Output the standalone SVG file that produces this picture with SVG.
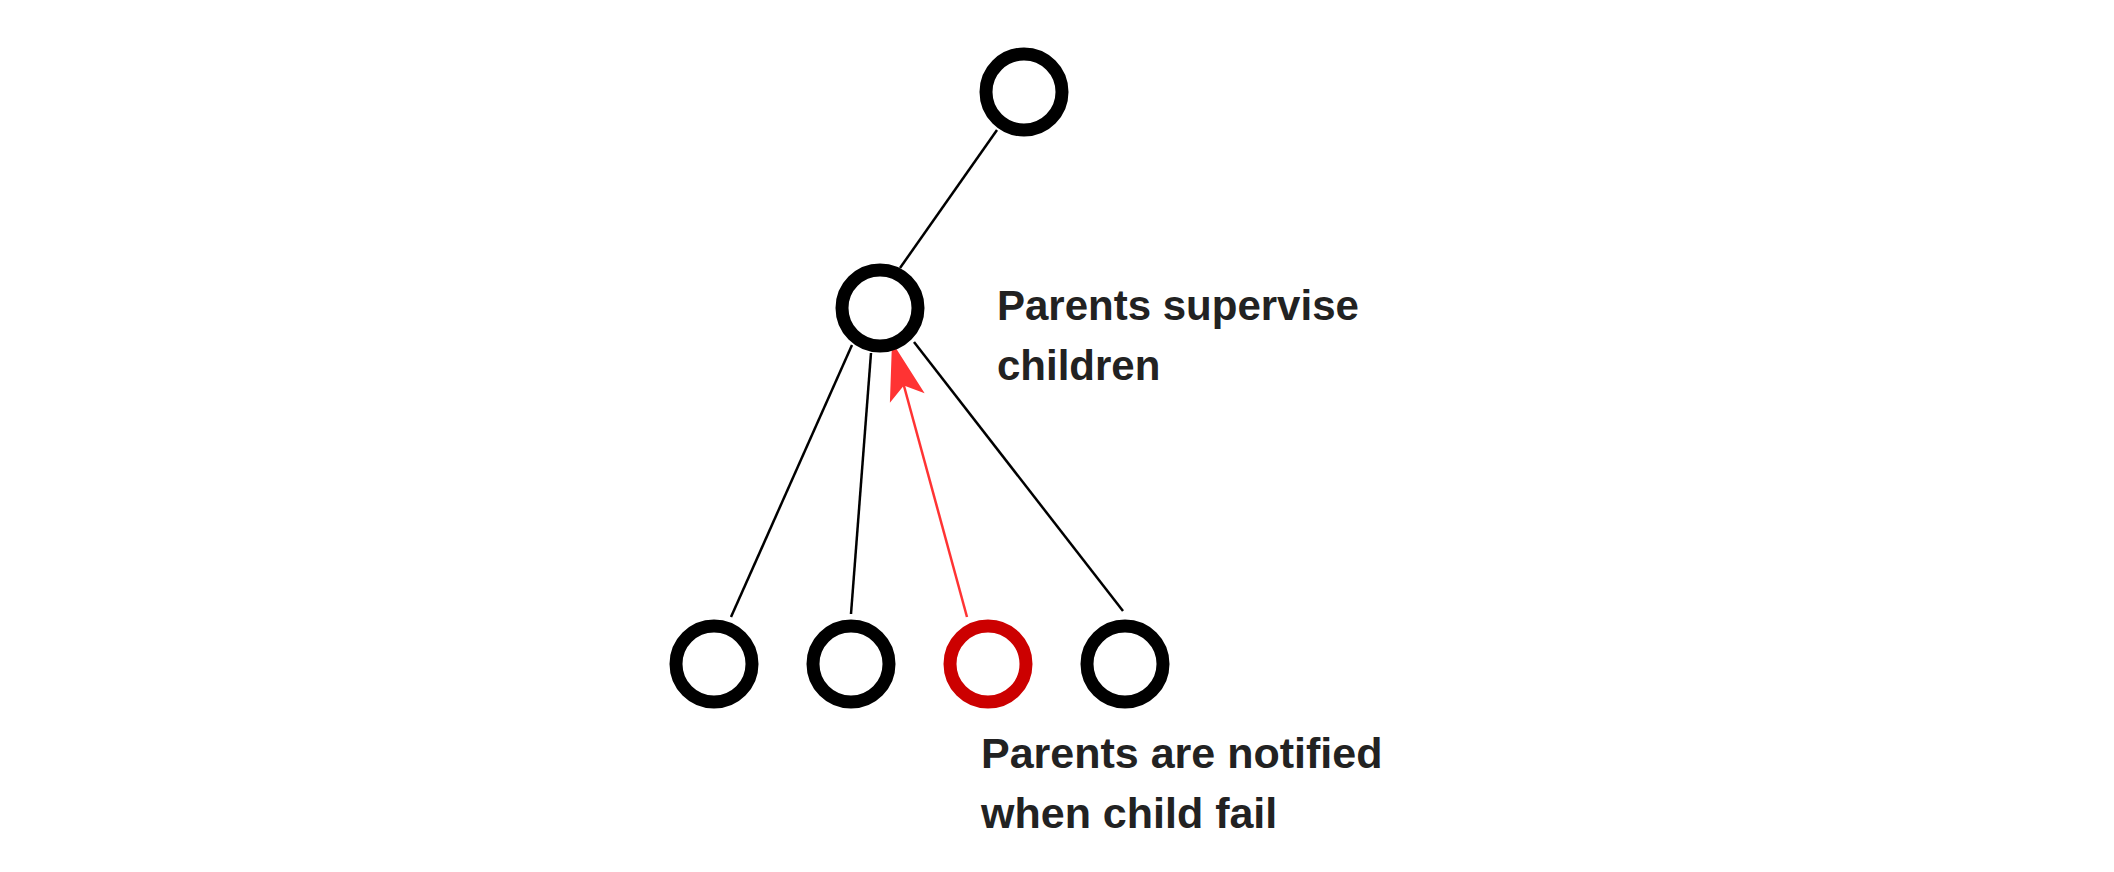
<svg xmlns="http://www.w3.org/2000/svg" width="2114" height="872" viewBox="0 0 2114 872">
  <style>
    .node { fill: none; stroke: #000000; stroke-width: 13; }
    .failed { fill: none; stroke: #CC0000; stroke-width: 13; }
    .edge { stroke: #000000; stroke-width: 2.5; fill: none; }
    .notify { stroke: #FF3333; stroke-width: 2.5; fill: none; }
    .label { font-family: "Liberation Sans", Arial, sans-serif; font-weight: bold; font-size: 42px; fill: #222222; }
    .label2 { font-size: 43px; }
  </style>
  <defs>
    <marker id="redArrow" markerUnits="userSpaceOnUse" markerWidth="70" markerHeight="44" viewBox="-62 -22 66 44" refX="0" refY="0" orient="auto">
      <path d="M0,0 L-58,-18 L-45,0 L-58,18 Z" fill="#FF3333"/>
    </marker>
  </defs>
  <rect width="2114" height="872" fill="#ffffff"/>
  <g id="connectors">
    <line class="edge" x1="997" y1="130" x2="900" y2="268"/>
    <line class="edge" x1="852" y1="345" x2="731" y2="617"/>
    <line class="edge" x1="871" y1="353" x2="851" y2="614"/>
    <line class="edge" x1="914" y1="342" x2="1123" y2="611"/>
    <line class="notify" x1="967" y1="617" x2="892" y2="342" marker-end="url(#redArrow)"/>
  </g>
  <g id="root"><circle class="node" cx="1024" cy="92" r="38"/></g>
  <g id="parent"><circle class="node" cx="880" cy="308" r="38"/></g>
  <g id="child1"><circle class="node" cx="714" cy="664" r="38"/></g>
  <g id="child2"><circle class="node" cx="851" cy="664" r="38"/></g>
  <g id="child3"><circle class="failed" cx="988" cy="664" r="38"/></g>
  <g id="child4"><circle class="node" cx="1125" cy="664" r="38"/></g>
  <g id="label-supervise">
    <text class="label" x="997" y="320">Parents supervise</text>
    <text class="label" x="997" y="380">children</text>
  </g>
  <g id="label-notified">
    <text class="label label2" x="981" y="768">Parents are notified</text>
    <text class="label label2" x="981" y="828">when child fail</text>
  </g>
</svg>
